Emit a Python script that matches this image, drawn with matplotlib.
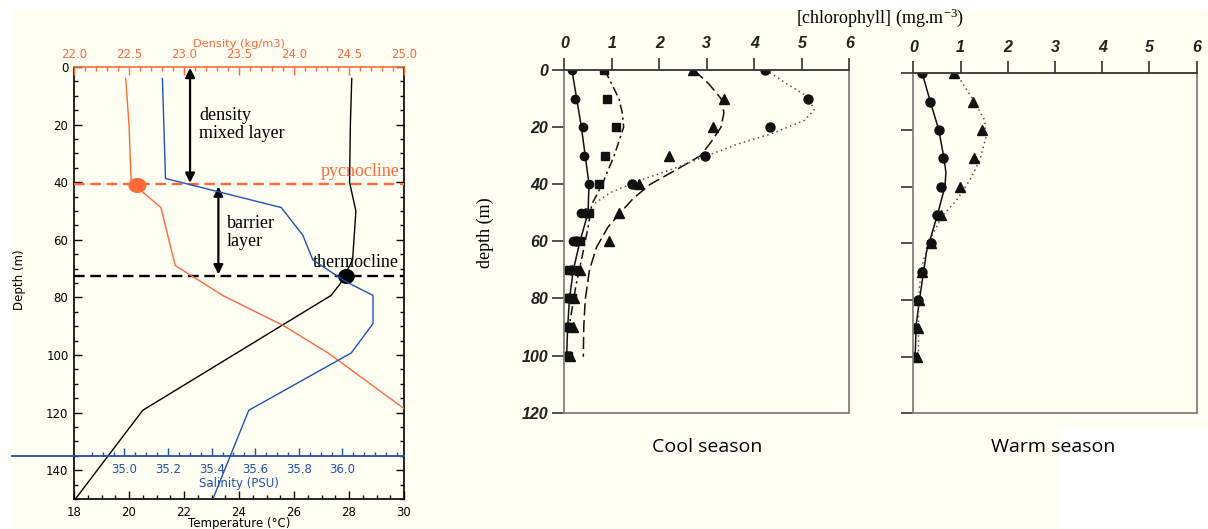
import numpy as np
import matplotlib
matplotlib.use("Agg")
import matplotlib.pyplot as plt
from matplotlib.patches import Rectangle
from matplotlib.path import Path
from matplotlib.ticker import MultipleLocator, FixedLocator

plt.rcParams['mathtext.fontset'] = 'custom'
plt.rcParams['mathtext.rm'] = 'Liberation Serif'
plt.rcParams['mathtext.it'] = 'Liberation Serif:italic'

W, H = 1208, 529
CREAM = '#fefef2'
ORANGE = '#ff6a3a'
BLUE = '#2450b4'
GRAY = '#808080'

# ---------------- data: left panel (profiles) ----------------
temp_depth = [4, 20, 40, 50, 60, 67, 75, 79.3, 119.2, 150]
temp_val = [28.1, 28.05, 28.02, 28.25, 28.18, 28.13, 27.7, 27.35, 20.5, 18.05]

sal_depth = [4, 38.7, 48.8, 58.4, 67, 74.6, 79.3, 89.1, 99.3, 119.2, 150]
sal_val = [35.174, 35.188, 35.719, 35.818, 35.864, 36.017, 36.14, 36.14, 36.04, 35.57, 35.405]

dens_depth = [4, 20, 40, 41, 48.8, 68.9, 79.3, 89.7, 99.3, 118.6]
dens_val = [22.47, 22.50, 22.52, 22.55, 22.79, 22.92, 23.35, 23.90, 24.31, 25.0]

pycno_depth = 40.5
thermo_depth = 72.5
pycno_point = (22.57, 41.0)      # (density, depth)
thermo_point = (27.9, 72.7)      # (temperature, depth)

temp_ticks = [18, 20, 22, 24, 26, 28, 30]
dens_ticks = [22.0, 22.5, 23.0, 23.5, 24.0, 24.5, 25.0]
sal_ticks = [35.0, 35.2, 35.4, 35.6, 35.8, 36.0]
depth_ticks_left = [0, 20, 40, 60, 80, 100, 120, 140]

# ---------------- data: chlorophyll profiles ----------------
chl_depth = [0, 10, 20, 30, 40, 50, 60, 70, 80, 90, 100]
cool_a = [0.16, 0.23, 0.39, 0.42, 0.51, 0.36, 0.18, 0.06, 0.04, 0.04, 0.06]
cool_b = [0.84, 0.90, 1.08, 0.86, 0.73, 0.52, 0.32, 0.22, 0.17, 0.12, 0.08]
cool_c = [2.70, 3.37, 3.12, 2.20, 1.58, 1.15, 0.94, 0.32, 0.20, 0.18, 0.12]
cool_d = [4.22, 5.12, 4.32, 2.96, 1.42, 0.45, 0.25, 0.15, 0.10, 0.08, 0.06]

cool_a_fit_d = [0, 10, 20, 30, 40, 50, 60, 70, 80, 90, 100]
cool_a_fit = [0.16, 0.26, 0.36, 0.44, 0.52, 0.50, 0.33, 0.19, 0.11, 0.07, 0.05]
cool_b_fit_d = [0, 5, 10, 15, 20, 30, 40, 47, 55, 65, 75, 90]
cool_b_fit = [0.85, 1.0, 1.15, 1.22, 1.25, 1.05, 0.80, 0.58, 0.50, 0.38, 0.25, 0.10]
cool_c_fit_d = [0, 5, 10, 15, 20, 25, 30, 35, 40, 45, 50, 55, 62, 70, 80.5, 90, 100.4]
cool_c_fit = [2.73, 3.05, 3.30, 3.36, 3.30, 3.10, 2.87, 2.35, 1.81, 1.45, 1.18, 0.92, 0.68, 0.53, 0.44, 0.41, 0.40]
cool_d_fit_d = [0, 5, 9.3, 14, 17.7, 22.4, 26, 30.3, 35, 39, 43, 46.6]
cool_d_fit = [4.24, 4.70, 5.12, 5.26, 5.05, 4.35, 3.64, 2.96, 2.23, 1.53, 0.96, 0.65]

warm_a = [0.19, 0.35, 0.54, 0.63, 0.59, 0.51, 0.37, 0.18, 0.10, 0.04, 0.02]
warm_b = [0.86, 1.27, 1.45, 1.29, 0.99, 0.58, 0.38, 0.18, 0.13, 0.10, 0.07]
warm_a_fit_d = [0, 10, 20, 30, 35, 40, 50, 63, 80, 89, 100]
warm_a_fit = [0.19, 0.36, 0.54, 0.65, 0.69, 0.67, 0.51, 0.28, 0.13, 0.06, 0.04]
warm_b_fit_d = [0, 2.4, 9.4, 16.5, 22.4, 30.6, 37.6, 44.7, 50.6, 57.6, 65.9, 75.3, 82, 100]
warm_b_fit = [0.86, 1.00, 1.27, 1.51, 1.54, 1.41, 1.20, 0.92, 0.60, 0.39, 0.21, 0.13, 0.11, 0.11]

chl_ticks = [0, 1, 2, 3, 4, 5, 6]
chl_depth_ticks = [0, 20, 40, 60, 80, 100, 120]

# ---------------- figure ----------------
fig = plt.figure(figsize=(W / 100, H / 100), dpi=100, facecolor='white')


def px(x0, y0, x1, y1):
    return [x0 / W, 1 - y1 / H, (x1 - x0) / W, (y1 - y0) / H]


fig.patches.append(Rectangle((12 / W, 0), (1058 - 12) / W, 1 - 10 / H,
                             transform=fig.transFigure, color=CREAM, zorder=-10))
fig.patches.append(Rectangle((1058 / W, 1 - 427 / H), (W - 1058) / W, (427 - 10) / H,
                             transform=fig.transFigure, color=CREAM, zorder=-10))

# ---- left main axes (temperature / depth) ----
ax = fig.add_axes(px(74, 67, 404, 499))
ax.set_facecolor('none')
ax.set_xlim(18, 30)
ax.set_ylim(150, 0)
ax.plot(temp_val, temp_depth, color='black', lw=1.0, zorder=3)
ax.xaxis.set_major_locator(FixedLocator(temp_ticks))
ax.xaxis.set_minor_locator(MultipleLocator(0.5))
ax.yaxis.set_major_locator(FixedLocator(depth_ticks_left))
ax.yaxis.set_minor_locator(MultipleLocator(5))
ax.tick_params(which='both', direction='in', right=True, top=False, width=1.0)
ax.tick_params(which='major', length=6, labelsize=8.5, pad=4)
ax.tick_params(axis='x', which='major', pad=5)
ax.tick_params(which='minor', length=3)
for lab in ax.get_xticklabels() + ax.get_yticklabels():
    lab.set_family('DejaVu Sans')
fig.text(239 / W, 1 - 523 / H, 'Temperature (°C)', ha='center', va='center',
         family='DejaVu Sans', size=8.5)
fig.text(19 / W, 1 - 280 / H, 'Depth (m)', ha='center', va='center', rotation=90,
         family='DejaVu Sans', size=8.5)
for s in ['left', 'right', 'bottom']:
    ax.spines[s].set_linewidth(1.2)
ax.spines['top'].set_visible(False)

# density twin
ax_d = ax.twiny()
ax_d.set_xlim(22, 25)
ax_d.plot(dens_val, dens_depth, color=ORANGE, lw=1.0, zorder=3)
ax_d.xaxis.set_major_locator(FixedLocator(dens_ticks))
ax_d.xaxis.set_major_formatter(plt.FuncFormatter(lambda v, p: f'{v:.1f}'))
ax_d.xaxis.set_minor_locator(MultipleLocator(0.1))
ax_d.tick_params(which='both', direction='in', colors=ORANGE, width=1.0)
ax_d.tick_params(which='major', length=6, labelsize=8.5, pad=4)
ax_d.tick_params(which='minor', length=3)
fig.text(239 / W, 1 - 44 / H, 'Density (kg/m3)', ha='center', va='center',
         color=ORANGE, family='DejaVu Sans', size=8.2)
for s in ['left', 'right', 'bottom']:
    ax_d.spines[s].set_visible(False)
ax_d.spines['top'].set_color(ORANGE)
ax_d.spines['top'].set_linewidth(1.2)
ell = Path(Path.unit_circle().vertices * [1.22, 1.0], Path.unit_circle().codes)
ax_d.plot([pycno_point[0]], [pycno_point[1]], marker=ell, ms=12, color=ORANGE,
          ls='none', zorder=5)

# salinity twin (data only)
ax_s = ax.twiny()
ax_s.set_xlim(35.0 - (124.5 - 74) / 218, 35.0 + (404 - 124.5) / 218)
ax_s.plot(sal_val, sal_depth, color=BLUE, lw=1.0, zorder=3)
ax_s.xaxis.set_visible(False)
for s in ax_s.spines.values():
    s.set_visible(False)

# reference lines and markers on main axes
ax.axhline(pycno_depth, color=ORANGE, lw=1.7, dashes=(4.5, 2.4), zorder=4)
ax.axhline(thermo_depth, color='black', lw=1.7, dashes=(4.5, 2.4), zorder=4)
ell2 = Path(Path.unit_circle().vertices * [1.12, 1.0], Path.unit_circle().codes)
ax.plot([thermo_point[0]], [thermo_point[1]], marker=ell2, ms=11, color='black',
        ls='none', zorder=6)

ax.annotate('', xy=(22.22, 40.2), xytext=(22.22, 0.3),
            arrowprops=dict(arrowstyle='<|-|>', color='black', lw=1.6,
                            mutation_scale=14, shrinkA=0, shrinkB=0), zorder=6)
ax.annotate('', xy=(23.25, 72.0), xytext=(23.25, 41.5),
            arrowprops=dict(arrowstyle='<|-|>', color='black', lw=1.6,
                            mutation_scale=14, shrinkA=0, shrinkB=0), zorder=6)
SF = dict(family='Liberation Serif', size=13)
ax.text(22.55, 20, 'density\nmixed layer', ha='left', va='center', linespacing=1.05, **SF)
ax.text(23.55, 57.4, 'barrier\nlayer', ha='left', va='center', linespacing=1.05, **SF)
ax.text(29.85, 36.3, 'pycnocline', ha='right', va='center', color=ORANGE, **SF)
ax.text(29.8, 67.8, 'thermocline', ha='right', va='center', color='black', zorder=7, **SF)

# salinity axis (horizontal line inside panel)
ax_sa = fig.add_axes([12 / W, 1 - 455.7 / H, (404 - 12) / W, 0.0005])
ax_sa.set_facecolor('none')
ax_sa.set_xlim(35.0 - (124.5 - 12) / 218, 35.0 + (404 - 124.5) / 218)
ax_sa.set_yticks([])
for s in ['top', 'left', 'right']:
    ax_sa.spines[s].set_visible(False)
ax_sa.spines['bottom'].set_color(BLUE)
ax_sa.spines['bottom'].set_linewidth(1.3)
ax_sa.xaxis.set_major_locator(FixedLocator(sal_ticks))
ax_sa.xaxis.set_major_formatter(plt.FuncFormatter(lambda v, p: f'{v:.1f}'))
ax_sa.xaxis.set_minor_locator(FixedLocator(list(np.arange(34.85, 36.26, 0.05))))
ax_sa.tick_params(which='both', direction='in', colors=BLUE, width=1.0)
ax_sa.tick_params(which='major', length=6, labelsize=8.5, pad=5)
ax_sa.tick_params(which='minor', length=3)
ax_sa.set_xlabel('Salinity (PSU)', color=BLUE, fontsize=8.5, labelpad=1)
ax_sa.xaxis.label.set_x((239 - 12) / 392)


# ---------------- chlorophyll panels ----------------
def chl_axes(rect, labels_left):
    a = fig.add_axes(rect)
    a.set_facecolor('none')
    a.set_xlim(0, 6)
    a.set_ylim(120, 0)
    a.xaxis.tick_top()
    a.set_xticks(chl_ticks)
    a.set_yticks(chl_depth_ticks)
    a.tick_params(axis='x', direction='out', length=8.5, width=1.2, color='#333333',
                  pad=5, labelsize=11.5)
    a.tick_params(axis='y', direction='out', length=9, width=1.2, color='#333333',
                  pad=2.5, labelsize=11.5, labelleft=labels_left)
    for lab in a.get_xticklabels() + a.get_yticklabels():
        lab.set_family('Liberation Sans')
        lab.set_fontweight('bold')
        lab.set_fontstyle('italic')
        lab.set_color('#222222')
    for s in a.spines.values():
        s.set_color(GRAY)
        s.set_linewidth(1.3)
    a.spines['top'].set_color('#333333')
    return a


axc = chl_axes(px(564.3, 70, 849.3, 412.7), True)
axw = chl_axes(px(913.3, 73.3, 1196.7, 413.3), False)

K = '#111111'
axc.plot(cool_a_fit, cool_a_fit_d, color=K, lw=1.1)
axc.plot(cool_b_fit, cool_b_fit_d, color=K, lw=1.1, dashes=(6, 2.5, 1.5, 2.5))
axc.plot(cool_c_fit, cool_c_fit_d, color=K, lw=1.1, dashes=(8, 3))
axc.plot(cool_d_fit, cool_d_fit_d, color='#555555', lw=1.1, dashes=(1, 2.2))
axc.plot(cool_d, chl_depth, 'o', color=K, ms=6.5, ls='none')
axc.plot(cool_c, chl_depth, '^', color=K, ms=6.5, ls='none')
axc.plot(cool_b, chl_depth, 's', color=K, ms=6, ls='none')
axc.plot(cool_a, chl_depth, 'o', color=K, ms=6, ls='none')

axw.plot(warm_a_fit, warm_a_fit_d, color=K, lw=1.1)
axw.plot(warm_b_fit, warm_b_fit_d, color='#555555', lw=1.1, dashes=(1, 2.2))
axw.plot(warm_b, chl_depth, '^', color=K, ms=6.5, ls='none')
axw.plot(warm_a, chl_depth, 'o', color=K, ms=6.5, ls='none')

fig.text(880 / W, 1 - 18 / H, '[chlorophyll] (mg.m$^{-3}$)', ha='center', va='center',
         family='Liberation Serif', size=13)
fig.text(485 / W, 1 - 233 / H, 'depth (m)', ha='center', va='center', rotation=90,
         family='Liberation Serif', size=13)
fig.text(707 / W, 1 - 447 / H, 'Cool season', ha='center', va='center',
         family='Open Sans', size=14)
fig.text(1053 / W, 1 - 447 / H, 'Warm season', ha='center', va='center',
         family='Open Sans', size=14)

fig.savefig('out.png', dpi=100, facecolor='white')
